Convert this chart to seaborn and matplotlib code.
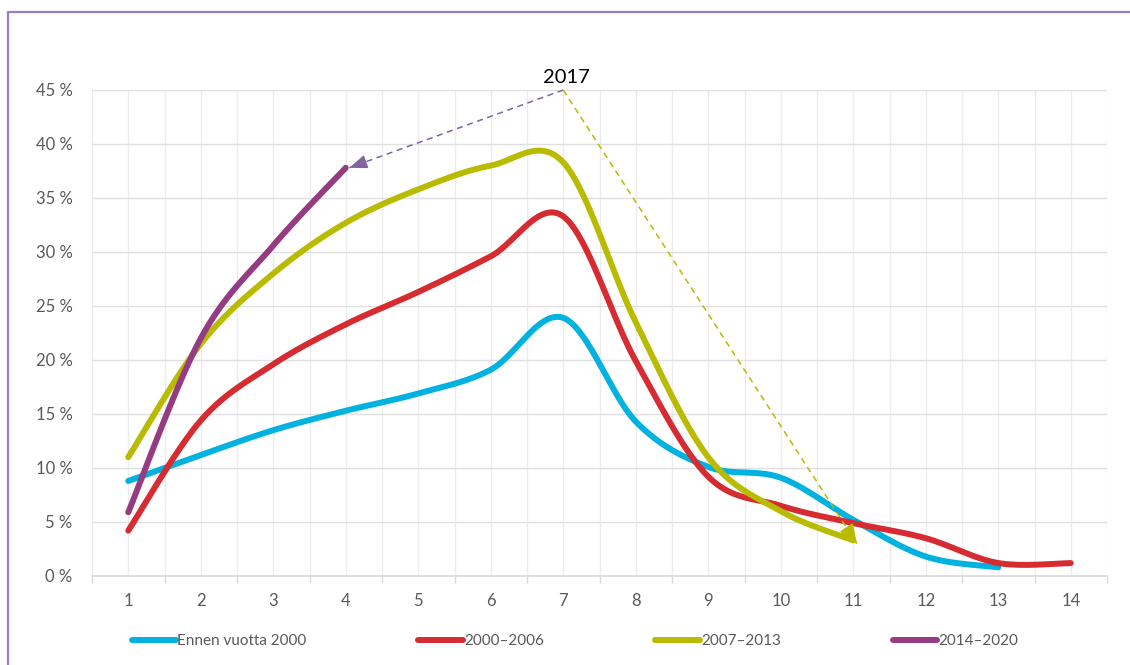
import numpy as np
import pandas as pd
import matplotlib
matplotlib.use("Agg")
import matplotlib.pyplot as plt
import seaborn as sns
from matplotlib.lines import Line2D
from matplotlib.ticker import MultipleLocator, FuncFormatter

# ---------------- data ----------------
years = list(range(1, 15))
ennen_2000 = [8.8, 11.2, 13.5, 15.3, 16.9, 19.1, 23.9, 14.3, 10.1, 9.1, 5.2, 1.8, 0.8]
v2000_2006 = [4.2, 14.4, 19.6, 23.3, 26.3, 29.6, 33.3, 19.9, 9.2, 6.5, 4.9, 3.5, 1.2, 1.2]
v2007_2013 = [11.0, 21.5, 28.0, 32.7, 35.8, 38.0, 38.3, 23.5, 11.0, 6.0, 3.3]
v2014_2020 = [5.9, 22.0, 30.6, 37.8]
series_names = ["Ennen vuotta 2000", "2000\u20132006", "2007\u20132013", "2014\u20132020"]
series_values = [ennen_2000, v2000_2006, v2007_2013, v2014_2020]
colors = ["#00B2E0", "#D52B31", "#B9BB00", "#953B82"]
y_ticks = [0, 5, 10, 15, 20, 25, 30, 35, 40, 45]
annot_label = "2017"
annot_top = 45.0
annot_x = 7


def smooth(xs, ys, n=40):
    """Excel-style smoothed line (Catmull-Rom Bezier) through the data points."""
    p = np.column_stack([xs, ys]).astype(float)
    if len(p) < 3:
        return p[:, 0], p[:, 1]
    ext = np.vstack([p[0], p, p[-1]])
    out = []
    t = np.linspace(0, 1, n)[:, None]
    for i in range(1, len(ext) - 2):
        p0, p1, p2, p3 = ext[i - 1], ext[i], ext[i + 1], ext[i + 2]
        c1 = p1 + (p2 - p0) / 6.0
        c2 = p2 - (p3 - p1) / 6.0
        seg = ((1 - t) ** 3) * p1 + 3 * ((1 - t) ** 2) * t * c1 + 3 * (1 - t) * t ** 2 * c2 + t ** 3 * p2
        out.append(seg if i == 1 else seg[1:])
    out = np.vstack(out)
    return out[:, 0], out[:, 1]


rows = []
for name, vals in zip(series_names, series_values):
    sx, sy = smooth(years[:len(vals)], vals)
    for k, (a, b) in enumerate(zip(sx, sy)):
        rows.append({"order": k, "x": a, "y": b, "series": name})
df = pd.DataFrame(rows)

# ---------------- figure ----------------
sns.set_theme(style="white")
plt.rcParams["font.family"] = ["Lato", "DejaVu Sans"]

fig = plt.figure(figsize=(11.30, 6.65), dpi=100)
W, H = 1130, 665
ax = fig.add_axes([92 / W, 1 - 576 / H, (1107 - 92) / W, (576 - 90) / H])

grid_c = "#ECECEC"
for name, col in zip(series_names, colors):
    sub = df[df["series"] == name]
    sns.lineplot(data=sub, x="x", y="y", sort=False, ax=ax, color=col,
                 linewidth=4.3, label=name, solid_capstyle="round", estimator=None)

ax.set_xlim(0.5, 14.5)
ax.set_ylim(0, 45)
ax.xaxis.set_major_locator(MultipleLocator(1))
ax.xaxis.set_minor_locator(MultipleLocator(1, offset=0.5))
ax.set_yticks(y_ticks)
ax.yaxis.set_major_formatter(FuncFormatter(lambda v, p: f"{int(v)} %"))
ax.set_xlabel("")
ax.set_ylabel("")
ax.grid(True, which="both", axis="x", color=grid_c, linewidth=1.0)
ax.grid(True, which="major", axis="y", color="#E0E0E0", linewidth=1.0)
ax.set_axisbelow(True)
for s in ["top", "right", "left"]:
    ax.spines[s].set_visible(False)
ax.spines["bottom"].set_color("#D9D9D9")
ax.spines["bottom"].set_linewidth(1.2)
ax.tick_params(axis="x", which="major", length=0, pad=12, labelsize=12, labelcolor="#595959")
ax.tick_params(axis="x", which="minor", length=5, width=1, color="#D9D9D9", bottom=True)
ax.tick_params(axis="y", which="major", length=0, pad=14, labelsize=12, labelcolor="#595959")


def dashed_arrow(x0, y0, x1, y1, color, hw, hl):
    ax.plot([x0, x1], [y0, y1], color=color, linewidth=1.1, linestyle=(0, (4, 3)),
            solid_capstyle="butt", zorder=5, clip_on=False)
    bx = x1 + (x0 - x1) * 0.02
    by = y1 + (y0 - y1) * 0.02
    ax.annotate("", xy=(x1, y1), xytext=(bx, by),
                arrowprops=dict(arrowstyle=f"-|>,head_length={hl},head_width={hw}",
                                color=color, linewidth=1.1, shrinkA=0, shrinkB=0),
                annotation_clip=False, zorder=6)


dashed_arrow(annot_x, annot_top, 4.05, v2014_2020[-1], "#8064A2", 0.35, 0.9)
dashed_arrow(annot_x, annot_top, 11.05, v2007_2013[-1] - 0.3, colors[2], 0.4, 1.0)
ax.text(annot_x + 0.05, annot_top + 0.4, annot_label, ha="center", va="bottom",
        fontsize=14.5, color="#000000")

# legend
if ax.legend_:
    ax.legend_.remove()
handles = [Line2D([0], [0], color=c, linewidth=4.3, solid_capstyle="round") for c in colors]
fig.legend(handles, series_names, loc="center", bbox_to_anchor=(575 / W, 1 - 641 / H),
           ncol=4, frameon=False, fontsize=11, handlelength=2.9, handletextpad=0.1,
           columnspacing=7.3, labelcolor="#595959")

# outer frame (partially visible)
fig.add_artist(Line2D([8 / W, 1.0], [1 - 12 / H, 1 - 12 / H], color="#9B7CC2", linewidth=1.6))
fig.add_artist(Line2D([8 / W, 8 / W], [0.0, 1 - 12 / H], color="#9B7CC2", linewidth=1.6))

fig.savefig("out.png", dpi=100, facecolor="white")
